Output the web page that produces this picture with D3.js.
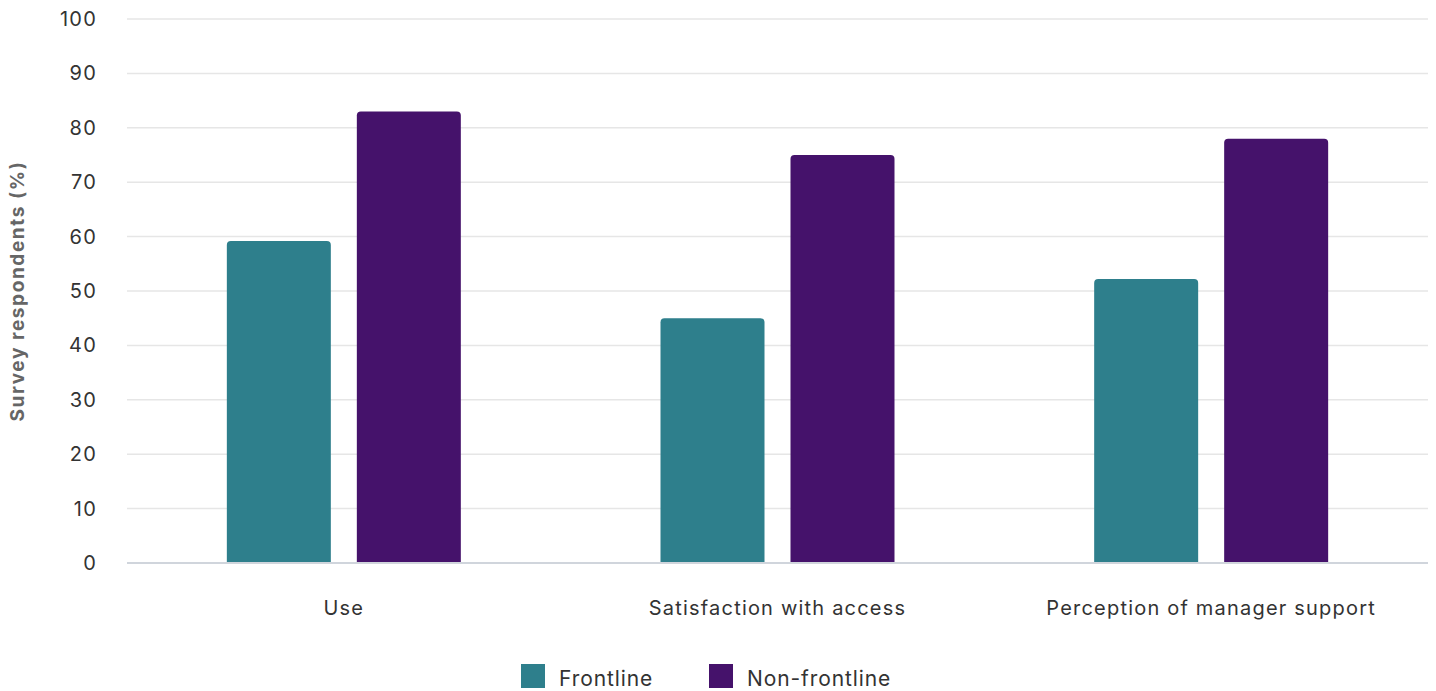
<!DOCTYPE html>
<html>
<head>
<meta charset="utf-8">
<script src="https://cdn.jsdelivr.net/npm/d3@7"></script>
<style>
  html, body { margin: 0; padding: 0; background: #fff; }
  svg { display: block; font-family: "Inter", "Roboto", sans-serif; }
</style>
</head>
<body>
<svg id="chart" width="1436" height="691"></svg>
<script>
const categories = ["Use", "Satisfaction with access", "Perception of manager support"];
const seriesNames = ["Frontline", "Non-frontline"];
const frontline = [59.2, 45, 52.2];
const nonFrontline = [83, 75, 78];
const yTicks = [0, 10, 20, 30, 40, 50, 60, 70, 80, 90, 100];
const colors = ["#2e7f8c", "#45126b"];

const rows = categories.map((c, i) => ({ category: c, values: [frontline[i], nonFrontline[i]] }));

const svg = d3.select("#chart");
const margin = { left: 127, right: 8, top: 19, bottom: 128 };
const W = 1436, H = 691;

const x0 = d3.scaleBand().domain(categories).range([margin.left, W - margin.right]).padding(0);
const x1 = d3.scaleBand().domain(seriesNames).range([0, x0.bandwidth()])
  .paddingInner(0.2).paddingOuter(0.768);
const y = d3.scaleLinear().domain([0, 100]).range([H - margin.bottom, margin.top]);

// horizontal gridlines
svg.append("g")
  .selectAll("line")
  .data(yTicks.filter(t => t > 0))
  .join("line")
  .attr("x1", margin.left).attr("x2", W - margin.right)
  .attr("y1", d => y(d)).attr("y2", d => y(d))
  .attr("stroke", "#e6e6e6").attr("stroke-width", 1.5);

// y axis labels
const yAxis = svg.append("g")
  .attr("transform", `translate(${margin.left},0)`)
  .call(d3.axisLeft(y).tickValues(yTicks).tickSize(0).tickPadding(30));
yAxis.select(".domain").remove();
yAxis.selectAll("text")
  .attr("font-size", 20).attr("letter-spacing", "1.2px")
  .attr("fill", "#333").attr("font-family", "Inter, Roboto, sans-serif");

// y axis title
svg.append("text")
  .attr("transform", `translate(24,${(y(0) + y(100)) / 2}) rotate(-90)`)
  .attr("text-anchor", "middle")
  .attr("font-size", 19).attr("letter-spacing", "1.6px")
  .attr("font-weight", "bold").attr("fill", "#666")
  .text("Survey respondents (%)");

// bars with rounded tops
function barPath(x, w, top, bottom, r) {
  r = Math.min(r, w / 2, bottom - top);
  return `M${x},${bottom}V${top + r}Q${x},${top} ${x + r},${top}H${x + w - r}Q${x + w},${top} ${x + w},${top + r}V${bottom}Z`;
}

const groups = svg.append("g").selectAll("g")
  .data(rows)
  .join("g")
  .attr("transform", d => `translate(${x0(d.category)},0)`);

groups.selectAll("path")
  .data(d => d.values.map((v, i) => ({ key: seriesNames[i], value: v, i })))
  .join("path")
  .attr("d", d => barPath(x1(d.key), x1.bandwidth(), y(d.value), y(0), 4))
  .attr("fill", d => colors[d.i]);

// baseline
svg.append("line")
  .attr("x1", margin.left).attr("x2", W - margin.right)
  .attr("y1", y(0)).attr("y2", y(0))
  .attr("stroke", "#d0d5dc").attr("stroke-width", 2);

// category labels
const xAxis = svg.append("g")
  .attr("transform", `translate(0,${y(0)})`)
  .call(d3.axisBottom(x0).tickSize(0).tickPadding(38));
xAxis.select(".domain").remove();
xAxis.selectAll("text")
  .attr("font-size", 20).attr("letter-spacing", "1.2px")
  .attr("fill", "#333").attr("font-family", "Inter, Roboto, sans-serif");

// legend
const legend = svg.append("g").attr("transform", "translate(521,664)");
const legendX = [0, 188];
seriesNames.forEach((name, i) => {
  const g = legend.append("g").attr("transform", `translate(${legendX[i]},0)`);
  g.append("rect").attr("width", 24).attr("height", 24).attr("fill", colors[i]);
  g.append("text").attr("x", 38).attr("y", 22)
    .attr("font-size", 21).attr("letter-spacing", "0.9px")
    .attr("fill", "#333").text(name);
});
</script>
</body>
</html>
